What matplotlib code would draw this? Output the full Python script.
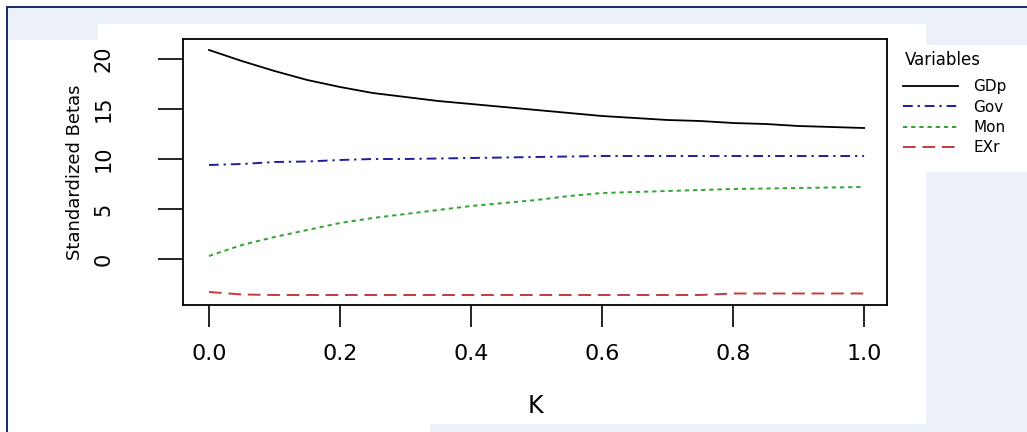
import matplotlib
matplotlib.use("Agg")
import matplotlib.pyplot as plt
from matplotlib.patches import Rectangle
from matplotlib.lines import Line2D

# ridge trace values
k = [0.00, 0.05, 0.10, 0.15, 0.20, 0.25, 0.30, 0.35, 0.40, 0.45, 0.50,
     0.55, 0.60, 0.65, 0.70, 0.75, 0.80, 0.85, 0.90, 0.95, 1.00]
gdp = [20.9, 19.8, 18.8, 17.9, 17.2, 16.6, 16.2, 15.8, 15.5, 15.2, 14.9,
       14.6, 14.3, 14.1, 13.9, 13.8, 13.6, 13.5, 13.3, 13.2, 13.1]
gov = [9.4, 9.5, 9.7, 9.75, 9.9, 10.0, 10.0, 10.05, 10.1, 10.15, 10.2,
       10.25, 10.3, 10.3, 10.3, 10.3, 10.3, 10.3, 10.3, 10.3, 10.3]
mon = [0.3, 1.4, 2.2, 2.9, 3.6, 4.1, 4.5, 4.9, 5.3, 5.6, 5.9,
       6.3, 6.6, 6.7, 6.8, 6.9, 7.0, 7.05, 7.1, 7.15, 7.2]
exr = [-3.3, -3.55, -3.6, -3.6, -3.6, -3.6, -3.6, -3.6, -3.6, -3.6, -3.6,
       -3.6, -3.6, -3.6, -3.6, -3.6, -3.45, -3.45, -3.45, -3.45, -3.45]

names = ["GDp", "Gov", "Mon", "EXr"]
xticks = [0.0, 0.2, 0.4, 0.6, 0.8, 1.0]
yticks = [0, 5, 10, 15, 20]

W, H = 1027, 432
fig = plt.figure(figsize=(W / 100, H / 100), dpi=100, facecolor="#ECF1F9")

def px_rect(x0, y0, x1, y1, color):
    # rectangle in pixel coords measured from the top-left corner
    fig.patches.append(Rectangle((x0 / W, 1 - y1 / H), (x1 - x0) / W, (y1 - y0) / H,
                                 transform=fig.transFigure, facecolor=color,
                                 edgecolor="none", zorder=-5))

# screenshot background pieces
px_rect(98, 24, 926, 424, "white")
px_rect(8, 40, 98, 432, "white")
px_rect(8, 424, 430, 432, "white")
px_rect(926, 45, 1027, 172, "white")
px_rect(0, 0, 1027, 6, "white")
px_rect(0, 0, 6, 432, "white")
px_rect(6, 6, 8, 432, "#1B2F6E")
px_rect(6, 6, 1027, 8, "#1B2F6E")

ax = fig.add_axes([183 / W, 1 - 305 / H, (887 - 183) / W, (305 - 39) / H])
ax.set_facecolor("white")

ax.plot(k, gdp, color="black", lw=1.3, ls="-")
ax.plot(k, gov, color="#1E1E9A", lw=1.4, ls=(0, (5, 2.5, 1.2, 2.5)))
ax.plot(k, mon, color="#2EA52E", lw=1.4, ls=(0, (2.2, 2)))
ax.plot(k, exr, color="#C23A3C", lw=1.4, ls=(0, (6.5, 3.5)))

ax.set_xlim(-0.0397, 1.035)
ax.set_ylim(-4.6, 22.0)
ax.set_xticks(xticks)
ax.set_xticklabels([f"{v:.1f}" for v in xticks], fontsize=16)
ax.set_yticks(yticks)
ax.set_yticklabels([str(v) for v in yticks], fontsize=15, rotation=90, va="center")
ax.tick_params(axis="x", length=16, width=1.2, pad=12)
ax.tick_params(axis="y", length=18, width=1.2, pad=32)
for s in ax.spines.values():
    s.set_linewidth(1.3)

ax.set_xlabel("K", fontsize=17)
ax.xaxis.set_label_coords(0.5, -0.335)
ax.set_ylabel("Standardized Betas", fontsize=13)
ax.yaxis.set_label_coords(-0.141, 0.5)

# legend outside the plot, title as separate text like R's legend()
fig.text(905 / W, 1 - 60 / H, "Variables", fontsize=12, ha="left", va="center")
handles = [Line2D([], [], color="black", lw=1.3, ls="-"),
           Line2D([], [], color="#1E1E9A", lw=1.4, ls=(0, (5, 2.5, 1.2, 2.5))),
           Line2D([], [], color="#2EA52E", lw=1.4, ls=(0, (2.2, 2))),
           Line2D([], [], color="#C23A3C", lw=1.4, ls=(0, (6.5, 3.5)))]
leg = fig.legend(handles, names, loc="upper left", bbox_to_anchor=(903 / W, 1 - 79 / H),
                 frameon=False, fontsize=11, handlelength=3.6, handletextpad=1.0,
                 labelspacing=0.36, borderaxespad=0, borderpad=0)

fig.savefig("out.png", dpi=100, facecolor=fig.get_facecolor())
